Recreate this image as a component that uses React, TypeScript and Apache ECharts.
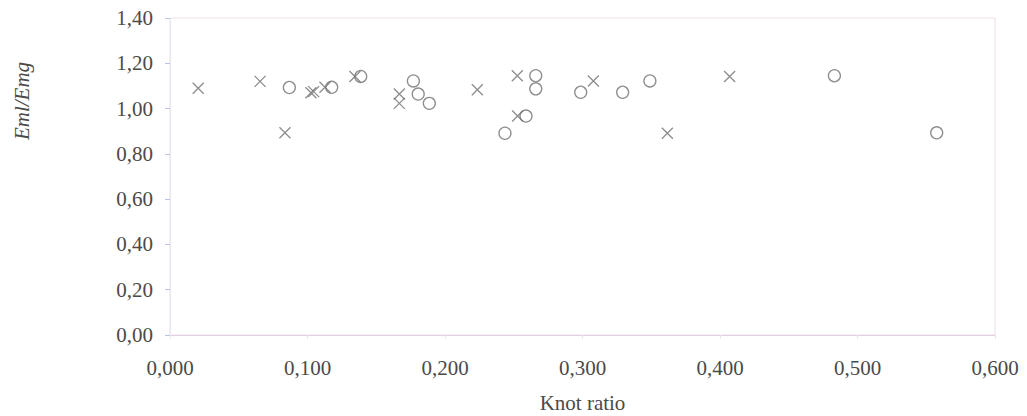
import React, { useEffect, useRef } from "react";
import * as echarts from "echarts";

const crossX = [0.0205, 0.0655, 0.0836, 0.1025, 0.1045, 0.1127, 0.1345, 0.1668, 0.1668, 0.2235, 0.2526, 0.2528, 0.3079, 0.3617, 0.407];
const crossY = [1.09, 1.12, 0.893, 1.07, 1.075, 1.094, 1.142, 1.064, 1.023, 1.083, 1.145, 0.967, 1.122, 0.891, 1.142];

const circleX = [0.0868, 0.1176, 0.1387, 0.177, 0.1805, 0.1886, 0.2436, 0.2589, 0.266, 0.266, 0.2987, 0.3292, 0.349, 0.4832, 0.5576];
const circleY = [1.093, 1.094, 1.142, 1.122, 1.064, 1.023, 0.891, 0.967, 1.145, 1.087, 1.072, 1.072, 1.122, 1.145, 0.893];

const xTicks = ["0,000", "0,100", "0,200", "0,300", "0,400", "0,500", "0,600"];
const yTicks = ["0,00", "0,20", "0,40", "0,60", "0,80", "1,00", "1,20", "1,40"];

const FONT = "'Liberation Serif', 'DejaVu Serif', serif";
const TEXT = "#4a4a4a";
const MARK = "#707070";

export default function App() {
  const ref = useRef<HTMLDivElement>(null);
  useEffect(() => {
    if (!ref.current) return;
    const chart = echarts.init(ref.current, null, { renderer: "svg" });
    const pair = (xs: number[], ys: number[]) => xs.map((x, i) => [x, ys[i]]);
    chart.setOption({
      animation: false,
      backgroundColor: "#ffffff",
      grid: {
        left: 170,
        right: 32,
        top: 18,
        bottom: 81,
        containLabel: false,
        outerBoundsMode: "none",
        show: true,
        borderColor: "#ecdfe8",
        borderWidth: 1,
      },
      xAxis: {
        type: "value",
        min: 0,
        max: 0.6,
        interval: 0.1,
        name: "Knot ratio",
        nameLocation: "middle",
        nameGap: 57,
        nameTextStyle: { fontFamily: FONT, fontSize: 21, color: TEXT },
        axisLine: { show: true, lineStyle: { color: "#e2cfe0", width: 1 } },
        axisTick: { show: true, length: 4, lineStyle: { color: "#ece6ee" } },
        splitLine: { show: false },
        axisLabel: {
          fontFamily: FONT,
          fontSize: 21,
          color: TEXT,
          margin: 22,
          formatter: (v: number) => xTicks[Math.round(v * 10)] ?? "",
        },
      },
      yAxis: {
        type: "value",
        min: 0,
        max: 1.4,
        interval: 0.2,
        axisLine: { show: true, lineStyle: { color: "#e4e8f2", width: 1 } },
        axisTick: { show: true, length: 5, lineStyle: { color: "#b8c4e6" } },
        splitLine: { show: false },
        axisLabel: {
          fontFamily: FONT,
          fontSize: 21,
          color: TEXT,
          margin: 17,
          formatter: (v: number) => yTicks[Math.round(v * 5)] ?? "",
        },
      },
      graphic: [
        {
          type: "text",
          x: 22,
          y: 101,
          rotation: Math.PI / 2,
          style: {
            text: "Eml/Emg",
            fontFamily: FONT,
            fontStyle: "italic",
            fontSize: 21,
            fill: TEXT,
            align: "center",
            verticalAlign: "middle",
          },
        },
      ],
      series: [
        {
          type: "scatter",
          name: "cross",
          data: pair(crossX, crossY),
          symbol: "path://M0,0L10,10M10,0L0,10",
          symbolSize: 11,
          itemStyle: { color: "none", borderColor: MARK, borderWidth: 1.3 },
        },
        {
          type: "scatter",
          name: "circle",
          data: pair(circleX, circleY),
          symbol: "circle",
          symbolSize: 12,
          itemStyle: { color: "none", borderColor: MARK, borderWidth: 1.3 },
        },
      ],
    });
    return () => chart.dispose();
  }, []);
  return (
    <div
      ref={ref}
      style={{ position: "absolute", left: 0, top: 0, width: 1027, height: 416 }}
    />
  );
}
